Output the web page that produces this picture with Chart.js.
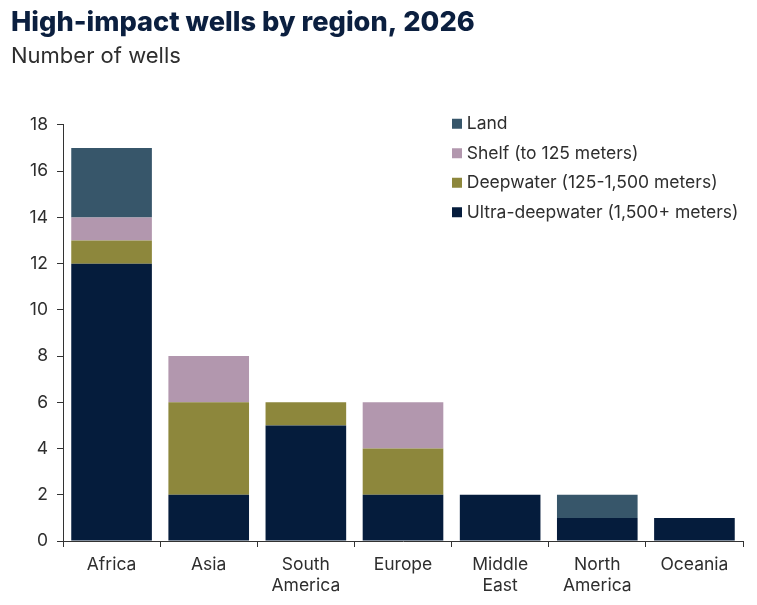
<!DOCTYPE html>
<html>
<head>
<meta charset="utf-8">
<style>
  html, body { margin: 0; padding: 0; background: #fff; }
  canvas { display: block; }
</style>
<script src="https://cdn.jsdelivr.net/npm/chart.js@4/dist/chart.umd.min.js"></script>
</head>
<body>
<canvas id="chart" width="757" height="605"></canvas>
<script>
const regions = ['Africa', 'Asia', ['South', 'America'], 'Europe', ['Middle', 'East'], ['North', 'America'], 'Oceania'];
const ultraDeepwater = [12, 2, 5, 2, 2, 1, 1];
const deepwater = [1, 4, 1, 2, 0, 0, 0];
const shelf = [1, 2, 0, 2, 0, 0, 0];
const land = [3, 0, 0, 0, 0, 1, 0];
const yTicks = [0, 2, 4, 6, 8, 10, 12, 14, 16, 18];

const fontFamily = 'Inter, "Liberation Sans", sans-serif';
const textColor = '#2e2e2e';
const axisColor = '#333333';

// the legend sits inside the plot, top right
const moveLegend = {
    id: 'moveLegend',
    afterLayout(chart) {
        const legend = chart.legend;
        legend.left = 444;
        legend.right = 757;
        legend.top = 103;
        legend.bottom = 240;
    },
};

new Chart(document.getElementById('chart'), {
    type: 'bar',
    data: {
        labels: regions,
        datasets: [
            { label: 'Ultra-deepwater (1,500+ meters)', data: ultraDeepwater, backgroundColor: '#051c3c' },
            { label: 'Deepwater (125-1,500 meters)', data: deepwater, backgroundColor: '#8d873c' },
            { label: 'Shelf (to 125 meters)', data: shelf, backgroundColor: '#b297ae' },
            { label: 'Land', data: land, backgroundColor: '#37566a' },
        ],
    },
    plugins: [moveLegend],
    options: {
        responsive: false,
        animation: false,
        layout: { padding: { top: 7, right: 14, left: 11, bottom: 0 } },
        datasets: { bar: { categoryPercentage: 1, barPercentage: 0.83 } },
        plugins: {
            title: {
                display: true,
                text: 'High-impact wells by region, 2026',
                align: 'start',
                color: '#0b1f3f',
                font: { family: fontFamily, size: 27.2, weight: 800 },
                padding: { top: 0, bottom: 4 },
            },
            subtitle: {
                display: true,
                text: 'Number of wells',
                align: 'start',
                color: textColor,
                font: { family: fontFamily, size: 22, weight: 'normal' },
                padding: { top: 0, bottom: 54.9 },
            },
            legend: {
                position: 'chartArea',
                align: 'start',
                reverse: true,
                labels: {
                    usePointStyle: true,
                    pointStyle: 'rect',
                    boxWidth: 2,
                    boxHeight: 10,
                    padding: 12,
                    color: textColor,
                    font: { family: fontFamily, size: 17.5 },
                },
            },
            tooltip: { enabled: false },
        },
        scales: {
            x: {
                stacked: true,
                afterFit: (scale) => { scale.height = 64; },
                border: { color: axisColor, width: 1 },
                grid: { drawOnChartArea: false, color: axisColor, tickLength: 6 },
                ticks: {
                    color: textColor,
                    maxRotation: 0,
                    autoSkip: false,
                    padding: 7,
                    font: { family: fontFamily, size: 17.5 },
                },
            },
            y: {
                stacked: true,
                min: 0,
                max: 18,
                afterFit: (scale) => { scale.width = 52; },
                afterBuildTicks: (scale) => { scale.ticks = yTicks.map((value) => ({ value })); },
                border: { color: axisColor, width: 1 },
                grid: { drawOnChartArea: false, color: axisColor, tickLength: 6 },
                ticks: {
                    color: textColor,
                    padding: 9,
                    font: { family: fontFamily, size: 17.5 },
                },
            },
        },
    },
});
</script>
</body>
</html>
